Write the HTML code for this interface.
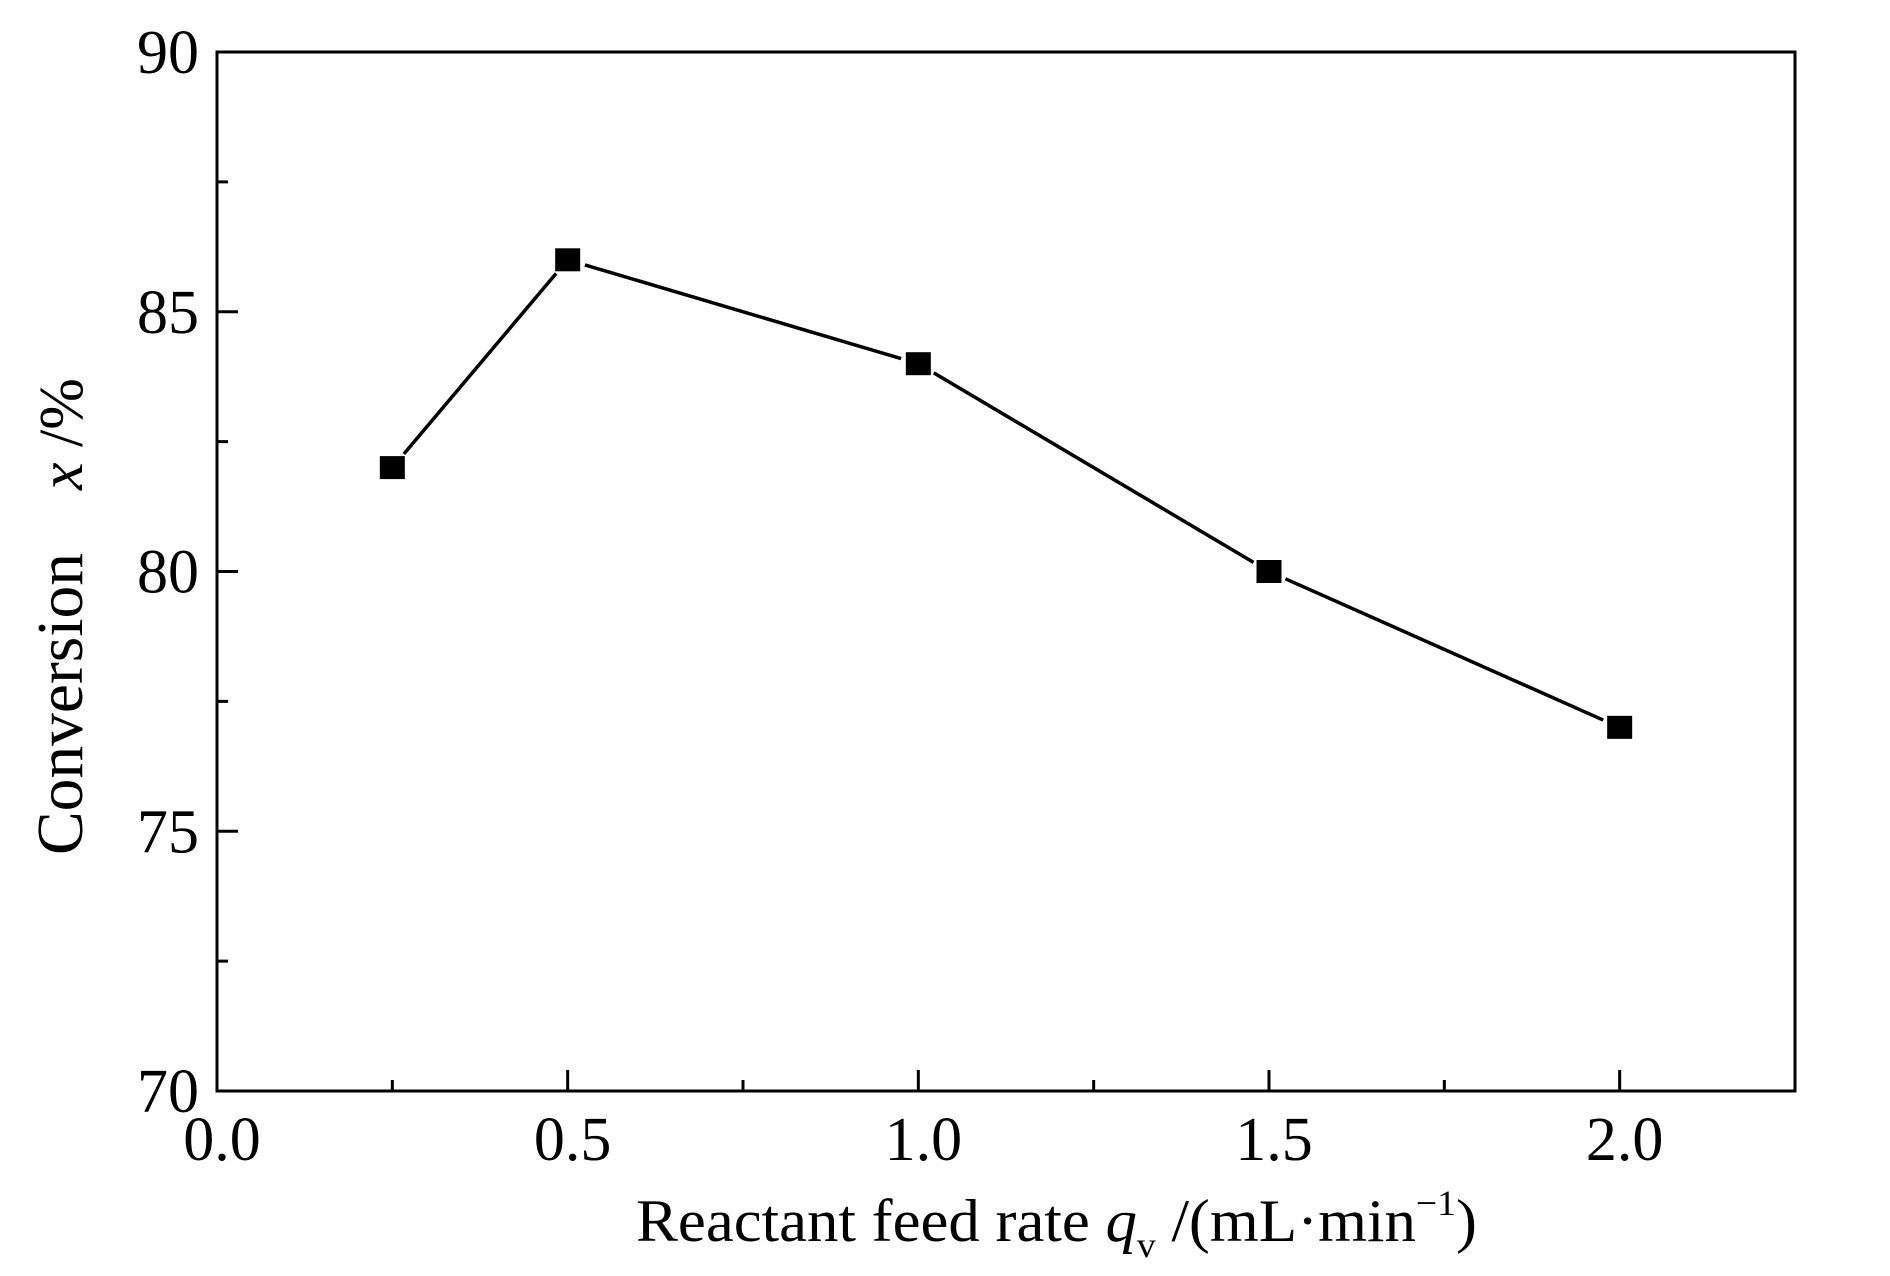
<!DOCTYPE html>
<html><head><meta charset="utf-8"><style>
html,body{margin:0;padding:0;background:#fff;}
svg{display:block;}
text{font-family:"Liberation Serif","Times New Roman",serif;fill:#000;}
</style></head><body>
<svg id="chart" width="1890" height="1276" viewBox="0 0 1890 1276" xmlns="http://www.w3.org/2000/svg">
<rect x="217" y="52" width="1578" height="1039" fill="none" stroke="#000" stroke-width="3"/>
<g id="ticks"></g>
<g id="series"></g>
<text transform="translate(82,855) rotate(-90)" font-size="66" textLength="302" lengthAdjust="spacingAndGlyphs">Conversion</text>
<text transform="translate(82,490) rotate(-90)" font-size="62"><tspan font-style="italic">x</tspan> /%</text>
<text x="636" y="1241" font-size="60" textLength="841" lengthAdjust="spacingAndGlyphs">Reactant feed rate <tspan font-style="italic">q</tspan><tspan font-size="36" dy="16">v</tspan><tspan dy="-16"> /(mL·min</tspan><tspan font-size="36" dy="-26">−1</tspan><tspan dy="26">)</tspan></text>
</svg>
<script>
const xValues = [0.25, 0.5, 1.0, 1.5, 2.0];
const yValues = [82, 86, 84, 80, 77];
const xTickLabels = ["0.0", "0.5", "1.0", "1.5", "2.0"];
const yTickLabels = ["70", "75", "80", "85", "90"];

const L = 217, R = 1795, T = 52, B = 1091;
const xMin = 0, xMax = 2.25, yMin = 70, yMax = 90;
const sx = v => L + (v - xMin) / (xMax - xMin) * (R - L);
const sy = v => B - (v - yMin) / (yMax - yMin) * (B - T);
const NS = "http://www.w3.org/2000/svg";
const ticks = document.getElementById('ticks');
const series = document.getElementById('series');
function mk(tag, attrs, parent) {
  const e = document.createElementNS(NS, tag);
  for (const k in attrs) e.setAttribute(k, attrs[k]);
  parent.appendChild(e);
  return e;
}
// x ticks
for (let i = 0; i < xTickLabels.length; i++) {
  const v = parseFloat(xTickLabels[i]);
  const x = sx(v);
  const t = mk('line', {x1: x, x2: x, y1: B, y2: B - 21, stroke: '#000', 'stroke-width': 3}, ticks);
  
  
  const lb = mk('text', {x: x + 5, y: 1160, 'font-size': 62, 'text-anchor': 'middle'}, ticks);
  lb.textContent = xTickLabels[i];
  
  
  if (i < xTickLabels.length - 1) {
    const xm = sx(v + 0.25);
    const m = mk('line', {x1: xm, x2: xm, y1: B, y2: B - 11, stroke: '#000', 'stroke-width': 3}, ticks);
    
    
  }
}
// y ticks
for (let i = 0; i < yTickLabels.length; i++) {
  const v = parseFloat(yTickLabels[i]);
  const y = sy(v);
  const t = mk('line', {x1: L, x2: L + 21, y1: y, y2: y, stroke: '#000', 'stroke-width': 3}, ticks);
  
  
  const lb = mk('text', {x: 199, y: y + 21, 'font-size': 62, 'text-anchor': 'end'}, ticks);
  lb.textContent = yTickLabels[i];
  
  
  if (i < yTickLabels.length - 1) {
    const ym = sy(v + 2.5);
    const m = mk('line', {x1: L, x2: L + 11, y1: ym, y2: ym, stroke: '#000', 'stroke-width': 3}, ticks);
    
    
  }
}
// line segments with gaps
const gap = 18;
for (let i = 0; i < xValues.length - 1; i++) {
  const x1 = sx(xValues[i]), y1 = sy(yValues[i]), x2 = sx(xValues[i + 1]), y2 = sy(yValues[i + 1]);
  const dx = x2 - x1, dy = y2 - y1, d = Math.hypot(dx, dy);
  const ux = dx / d, uy = dy / d;
  const s = mk('line', {x1: x1 + ux * gap, y1: y1 + uy * gap, x2: x2 - ux * gap, y2: y2 - uy * gap, stroke: '#000', 'stroke-width': 3.5}, series);
  
  
}
for (let i = 0; i < xValues.length; i++) {
  const p = mk('rect', {x: sx(xValues[i]) - 12.5, y: sy(yValues[i]) - 11.5, width: 25, height: 23, fill: '#000'}, series);
  
  
}
</script>
</body></html>
